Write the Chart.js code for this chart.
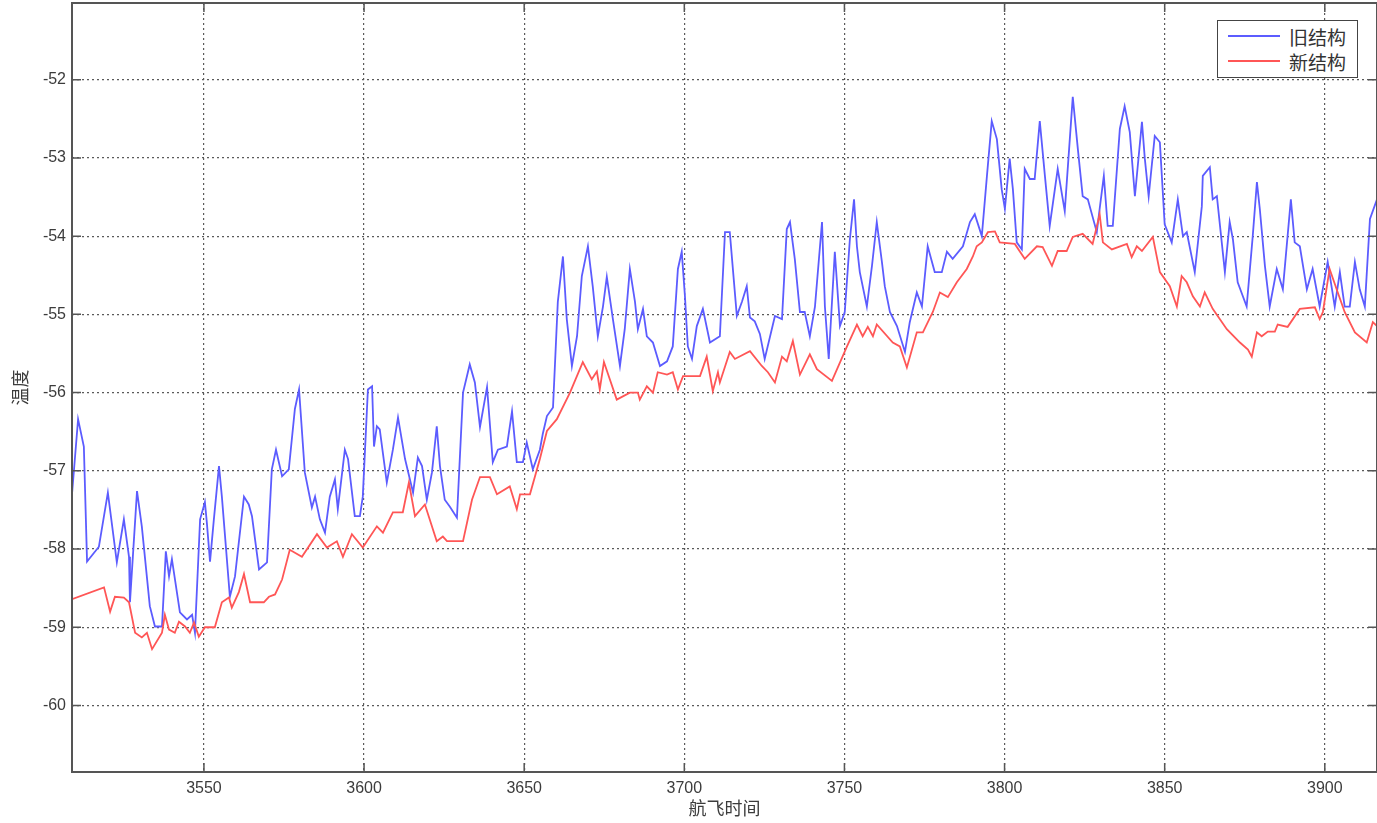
<!DOCTYPE html>
<html>
<head>
<meta charset="utf-8">
<script src="https://cdn.jsdelivr.net/npm/chart.js@4.4.1/dist/chart.umd.min.js"></script>
<style>
  html, body { margin: 0; padding: 0; background: #fff; }
  #wrap { position: relative; width: 1377px; height: 823px; }
  #legend {
    position: absolute; left: 1217px; top: 20px; width: 141px; height: 58px;
    box-sizing: border-box; border: 1px solid #444; background: #fff;
    font-family: "Noto Sans CJK SC", sans-serif; font-size: 19px; color: #333;
  }
  #legend .row { position: absolute; left: 0; height: 24px; display: flex; align-items: center; }
  #legend .swatch { width: 52px; height: 2px; margin-left: 10px; margin-right: 9px; }
</style>
</head>
<body>
<div id="wrap">
  <canvas id="chart" width="1377" height="823"></canvas>
  <div id="legend"></div>
</div>
<script>
// 旧结构 (blue)
const oldTime = [3508.8, 3510.7, 3512.5, 3513.5, 3517.2, 3520.0, 3522.8, 3525.0, 3526.6, 3526.9,
  3529.1, 3530.6, 3533.1, 3534.7, 3536.9, 3538.1, 3539.1, 3540.0, 3542.5, 3544.7,
  3546.3, 3547.2, 3548.8, 3550.3, 3550.9, 3551.9, 3553.1, 3554.7, 3555.6, 3558.1,
  3559.7, 3562.5, 3564.0, 3565.0, 3567.2, 3569.7, 3571.2, 3572.5, 3574.4, 3576.5,
  3578.4, 3579.7, 3581.5, 3583.7, 3584.7, 3586.2, 3587.8, 3589.3, 3590.9, 3591.8,
  3594.0, 3595.0, 3597.1, 3598.7, 3599.6, 3601.2, 3602.5, 3603.1, 3604.0, 3604.9,
  3607.1, 3609.0, 3610.6, 3612.8, 3615.3, 3616.8, 3618.1, 3619.6, 3621.2, 3622.7,
  3623.7, 3625.2, 3626.8, 3629.0, 3630.9, 3633.0, 3634.6, 3636.2, 3638.4, 3640.2,
  3641.8, 3644.6, 3646.2, 3647.7, 3649.6, 3650.8, 3652.7, 3654.9, 3655.8, 3657.1,
  3659.0, 3660.5, 3662.1, 3663.3, 3664.9, 3666.5, 3668.0, 3669.9, 3671.4, 3673.0,
  3674.6, 3675.8, 3677.7, 3679.9, 3681.4, 3683.0, 3684.6, 3685.5, 3687.1, 3688.3,
  3690.2, 3692.4, 3694.6, 3696.4, 3698.0, 3699.2, 3700.2, 3701.1, 3702.4, 3703.9,
  3705.8, 3708.0, 3711.1, 3712.7, 3714.2, 3716.4, 3718.0, 3719.5, 3720.5, 3722.0,
  3723.6, 3725.1, 3728.3, 3730.5, 3732.0, 3733.0, 3734.5, 3736.1, 3737.6, 3739.2,
  3740.8, 3743.0, 3743.9, 3745.1, 3747.0, 3748.6, 3750.1, 3751.7, 3753.0, 3753.9,
  3754.8, 3757.0, 3758.6, 3760.1, 3761.7, 3762.6, 3764.2, 3766.4, 3768.9, 3770.4,
  3772.6, 3774.2, 3776.0, 3778.2, 3780.4, 3782.0, 3783.8, 3787.0, 3789.2, 3790.7,
  3792.9, 3794.5, 3796.0, 3797.6, 3799.1, 3800.1, 3801.6, 3802.6, 3803.8, 3805.4,
  3806.3, 3807.9, 3809.4, 3811.0, 3812.6, 3814.1, 3816.6, 3818.8, 3821.3, 3822.9,
  3824.4, 3826.0, 3828.8, 3829.7, 3831.0, 3832.2, 3833.8, 3836.0, 3837.5, 3839.1,
  3840.7, 3842.9, 3843.8, 3845.0, 3846.9, 3848.5, 3850.0, 3852.2, 3854.1, 3855.7,
  3856.9, 3859.4, 3861.6, 3861.9, 3864.1, 3865.0, 3866.3, 3868.8, 3870.3, 3871.3,
  3872.8, 3875.6, 3877.5, 3878.8, 3879.7, 3881.3, 3882.8, 3885.0, 3886.9, 3889.4,
  3890.6, 3892.2, 3894.4, 3896.2, 3898.4, 3900.9, 3903.1, 3904.7, 3906.2, 3907.8,
  3909.4, 3910.9, 3912.5, 3914.1, 3916.3];
const oldTemp = [-57.30, -56.34, -56.69, -58.16, -57.97, -57.28, -58.17, -57.62, -58.10, -58.68,
  -57.26, -57.71, -58.73, -58.99, -58.99, -58.03, -58.35, -58.13, -58.81, -58.90,
  -58.84, -59.07, -57.62, -57.40, -57.66, -58.16, -57.62, -56.94, -57.33, -58.61,
  -58.35, -57.33, -57.43, -57.58, -58.26, -58.17, -56.98, -56.73, -57.07, -56.98,
  -56.21, -55.96, -57.02, -57.47, -57.33, -57.62, -57.79, -57.33, -57.11, -57.49,
  -56.73, -56.85, -57.58, -57.58, -57.33, -55.96, -55.92, -56.69, -56.43, -56.47,
  -57.15, -56.73, -56.32, -56.85, -57.28, -56.83, -56.94, -57.37, -57.02, -56.43,
  -56.94, -57.37, -57.46, -57.60, -56.00, -55.64, -55.87, -56.44, -55.93, -56.89,
  -56.73, -56.69, -56.24, -56.89, -56.89, -56.64, -56.98, -56.73, -56.53, -56.30,
  -56.19, -54.84, -54.26, -55.06, -55.66, -55.28, -54.51, -54.13, -54.64, -55.28,
  -54.90, -54.52, -55.06, -55.66, -55.19, -54.42, -54.84, -55.19, -54.93, -55.28,
  -55.36, -55.66, -55.60, -55.41, -54.42, -54.20, -54.77, -55.41, -55.57, -55.15,
  -54.93, -55.36, -55.28, -53.95, -53.95, -55.02, -54.84, -54.64, -55.04, -55.09,
  -55.25, -55.57, -55.02, -55.06, -53.91, -53.82, -54.29, -54.97, -54.97, -55.28,
  -54.90, -53.82, -54.90, -55.57, -54.20, -55.15, -54.97, -54.04, -53.53, -54.13,
  -54.46, -54.90, -54.38, -53.82, -54.33, -54.64, -54.97, -55.15, -55.48, -55.10,
  -54.72, -54.90, -54.13, -54.46, -54.46, -54.20, -54.29, -54.13, -53.82, -53.72,
  -54.00, -53.23, -52.53, -52.76, -53.40, -53.65, -53.01, -53.40, -54.08, -54.17,
  -53.14, -53.27, -53.27, -52.53, -53.23, -53.87, -53.14, -53.68, -52.22, -52.89,
  -53.49, -53.53, -53.95, -53.65, -53.23, -53.87, -53.87, -52.63, -52.34, -52.67,
  -53.49, -52.54, -53.01, -53.49, -52.72, -52.80, -53.85, -54.08, -53.53, -54.00,
  -53.95, -54.46, -53.62, -53.23, -53.12, -53.53, -53.49, -54.46, -53.82, -54.04,
  -54.59, -54.90, -54.00, -53.31, -53.65, -54.38, -54.90, -54.42, -54.68, -53.53,
  -54.08, -54.13, -54.68, -54.42, -54.90, -54.33, -54.90, -54.46, -54.90, -54.90,
  -54.33, -54.68, -54.90, -53.78, -53.53];

// 新结构 (red)
const newTime = [3508.8, 3518.8, 3520.7, 3522.2, 3525.0, 3526.6, 3528.5, 3530.6, 3532.2, 3533.8,
  3536.9, 3537.8, 3539.1, 3540.9, 3542.2, 3544.1, 3545.6, 3546.9, 3548.4, 3550.3,
  3553.4, 3555.6, 3557.8, 3558.7, 3560.9, 3562.5, 3564.4, 3568.7, 3570.3, 3572.2,
  3574.4, 3576.8, 3580.6, 3585.3, 3588.4, 3591.5, 3593.4, 3596.2, 3599.6, 3604.0,
  3605.9, 3609.0, 3612.1, 3614.0, 3615.9, 3619.0, 3622.7, 3624.6, 3625.9, 3630.9,
  3633.7, 3636.2, 3639.3, 3641.5, 3645.5, 3647.7, 3648.7, 3651.8, 3654.9, 3657.1,
  3660.2, 3664.3, 3668.3, 3671.1, 3672.7, 3673.6, 3674.9, 3678.9, 3683.0, 3685.5,
  3686.1, 3688.3, 3690.2, 3691.7, 3694.6, 3696.4, 3698.0, 3699.6, 3704.9, 3707.0,
  3708.9, 3710.5, 3711.1, 3714.2, 3715.8, 3720.5, 3724.2, 3726.1, 3728.3, 3730.5,
  3732.0, 3733.9, 3736.1, 3739.2, 3741.4, 3746.1, 3750.8, 3753.9, 3755.7, 3757.3,
  3758.9, 3760.1, 3765.1, 3767.3, 3769.5, 3772.6, 3774.5, 3777.6, 3779.8, 3782.3,
  3785.1, 3788.2, 3790.1, 3791.3, 3792.9, 3794.8, 3797.0, 3798.5, 3803.2, 3806.3,
  3810.1, 3811.9, 3814.8, 3816.6, 3819.4, 3821.3, 3824.4, 3827.5, 3829.7, 3830.7,
  3833.5, 3838.2, 3839.7, 3841.3, 3842.9, 3846.3, 3848.5, 3851.6, 3853.8, 3855.3,
  3856.9, 3858.8, 3861.0, 3862.5, 3865.0, 3869.4, 3873.5, 3876.0, 3877.2, 3878.8,
  3880.3, 3882.2, 3884.4, 3885.3, 3888.4, 3892.2, 3896.9, 3898.4, 3899.4, 3901.5,
  3903.7, 3906.2, 3909.4, 3913.1, 3915.0, 3916.3];
const newTemp = [-58.64, -58.49, -58.80, -58.61, -58.62, -58.68, -59.07, -59.13, -59.07, -59.28,
  -59.07, -58.84, -59.03, -59.07, -58.93, -58.99, -59.07, -58.94, -59.12, -59.00,
  -59.00, -58.68, -58.62, -58.75, -58.55, -58.32, -58.68, -58.68, -58.61, -58.58,
  -58.39, -58.01, -58.10, -57.81, -57.98, -57.90, -58.10, -57.81, -57.98, -57.71,
  -57.79, -57.53, -57.53, -57.15, -57.58, -57.43, -57.90, -57.84, -57.90, -57.90,
  -57.37, -57.08, -57.08, -57.30, -57.20, -57.49, -57.30, -57.30, -56.85, -56.49,
  -56.34, -56.00, -55.61, -55.83, -55.73, -55.96, -55.61, -56.09, -56.00, -56.00,
  -56.09, -55.92, -56.00, -55.74, -55.77, -55.74, -55.96, -55.79, -55.79, -55.54,
  -55.98, -55.74, -55.87, -55.48, -55.57, -55.47, -55.66, -55.74, -55.87, -55.54,
  -55.60, -55.34, -55.77, -55.51, -55.70, -55.85, -55.41, -55.13, -55.28, -55.16,
  -55.28, -55.13, -55.36, -55.41, -55.68, -55.23, -55.23, -54.97, -54.72, -54.78,
  -54.59, -54.42, -54.26, -54.13, -54.08, -53.95, -53.94, -54.08, -54.10, -54.29,
  -54.13, -54.14, -54.38, -54.19, -54.19, -54.01, -53.97, -54.10, -53.72, -54.08,
  -54.17, -54.10, -54.27, -54.13, -54.19, -54.01, -54.46, -54.64, -54.90, -54.51,
  -54.59, -54.77, -54.90, -54.72, -54.93, -55.19, -55.36, -55.45, -55.54, -55.23,
  -55.28, -55.22, -55.22, -55.13, -55.16, -54.93, -54.91, -55.06, -54.97, -54.42,
  -54.68, -54.97, -55.23, -55.36, -55.10, -55.15];

const xTicks = [3550, 3600, 3650, 3700, 3750, 3800, 3850, 3900];
const yTicks = [-60, -59, -58, -57, -56, -55, -54, -53, -52];
const xLabel = '航飞时间';
const yLabel = '温度';
const seriesNames = ['旧结构', '新结构'];

const textColor = '#3c3c3c';
const gridColor = '#5a5a5a';
const tickFont = { family: '"Liberation Sans", Arial, sans-serif', size: 16 };
const titleFont = { family: '"Noto Sans CJK SC", sans-serif', size: 18 };

function toPoints(xs, ys) {
  return xs.map((x, i) => ({ x: x, y: ys[i] }));
}

// box around the plot area plus inward tick marks (MATLAB style)
const axesBox = {
  id: 'axesBox',
  afterDraw(chart) {
    const ctx = chart.ctx;
    const a = chart.chartArea;
    const sx = chart.scales.x, sy = chart.scales.y;
    ctx.save();
    ctx.strokeStyle = '#555';
    ctx.lineWidth = 1.5;
    sx.ticks.forEach(t => {
      const px = sx.getPixelForValue(t.value);
      ctx.beginPath();
      ctx.moveTo(px, a.bottom); ctx.lineTo(px, a.bottom - 9);
      ctx.moveTo(px, a.top); ctx.lineTo(px, a.top + 9);
      ctx.stroke();
    });
    sy.ticks.forEach(t => {
      const py = sy.getPixelForValue(t.value);
      ctx.beginPath();
      ctx.moveTo(a.left, py); ctx.lineTo(a.left + 9, py);
      ctx.moveTo(a.right, py); ctx.lineTo(a.right - 9, py);
      ctx.stroke();
    });
    ctx.lineWidth = 2;
    ctx.strokeRect(a.left, a.top, a.right - a.left, a.bottom - a.top);
    ctx.restore();
  }
};

const chart = new Chart(document.getElementById('chart').getContext('2d'), {
  type: 'line',
  data: {
    datasets: [{
      label: seriesNames[0],
      data: toPoints(oldTime, oldTemp),
      borderColor: '#5c5cff',
      borderWidth: 1.8,
      pointRadius: 0,
      tension: 0,
      order: 1
    }, {
      label: seriesNames[1],
      data: toPoints(newTime, newTemp),
      borderColor: '#ff5656',
      borderWidth: 1.8,
      pointRadius: 0,
      tension: 0,
      order: 0
    }]
  },
  options: {
    responsive: false,
    animation: false,
    devicePixelRatio: 1,
    layout: { padding: { top: 3, right: 0, left: 0, bottom: 0 } },
    plugins: { legend: { display: false }, tooltip: { enabled: false } },
    scales: {
      x: {
        type: 'linear',
        min: 3508.8,
        max: 3916.3,
        afterBuildTicks: s => { s.ticks = xTicks.map(v => ({ value: v })); },
        afterFit: s => { s.height = 51; s.paddingLeft = 0; s.paddingRight = 0; },
        ticks: {
          callback: v => String(v),
          color: textColor,
          font: tickFont,
          padding: 7,
          maxRotation: 0,
          autoSkip: false
        },
        grid: { color: gridColor, lineWidth: 1.2, drawTicks: false },
        border: { display: false, dash: [2, 3] },
        title: {
          display: true,
          text: xLabel,
          color: textColor,
          font: titleFont,
          padding: { top: 0, bottom: 4 }
        }
      },
      y: {
        min: -60.85,
        max: -51.02,
        afterBuildTicks: s => { s.ticks = yTicks.map(v => ({ value: v })); },
        afterFit: s => { s.width = 72; s.paddingTop = 0; s.paddingBottom = 0; },
        ticks: {
          callback: v => String(v),
          color: textColor,
          font: tickFont,
          padding: 6
        },
        grid: { color: gridColor, lineWidth: 1.2, drawTicks: false },
        border: { display: false, dash: [2, 3] },
        title: {
          display: true,
          text: yLabel,
          color: textColor,
          font: titleFont,
          padding: { top: 9, bottom: 0 }
        }
      }
    }
  },
  plugins: [axesBox]
});

// legend box in the top right corner
const legend = document.getElementById('legend');
chart.data.datasets.forEach((ds, i) => {
  const row = document.createElement('div');
  row.className = 'row';
  row.style.top = (3 + i * 25) + 'px';
  const sw = document.createElement('span');
  sw.className = 'swatch';
  sw.style.background = ds.borderColor;
  const txt = document.createElement('span');
  txt.textContent = ds.label;
  row.appendChild(sw);
  row.appendChild(txt);
  legend.appendChild(row);
});
</script>
</body>
</html>
